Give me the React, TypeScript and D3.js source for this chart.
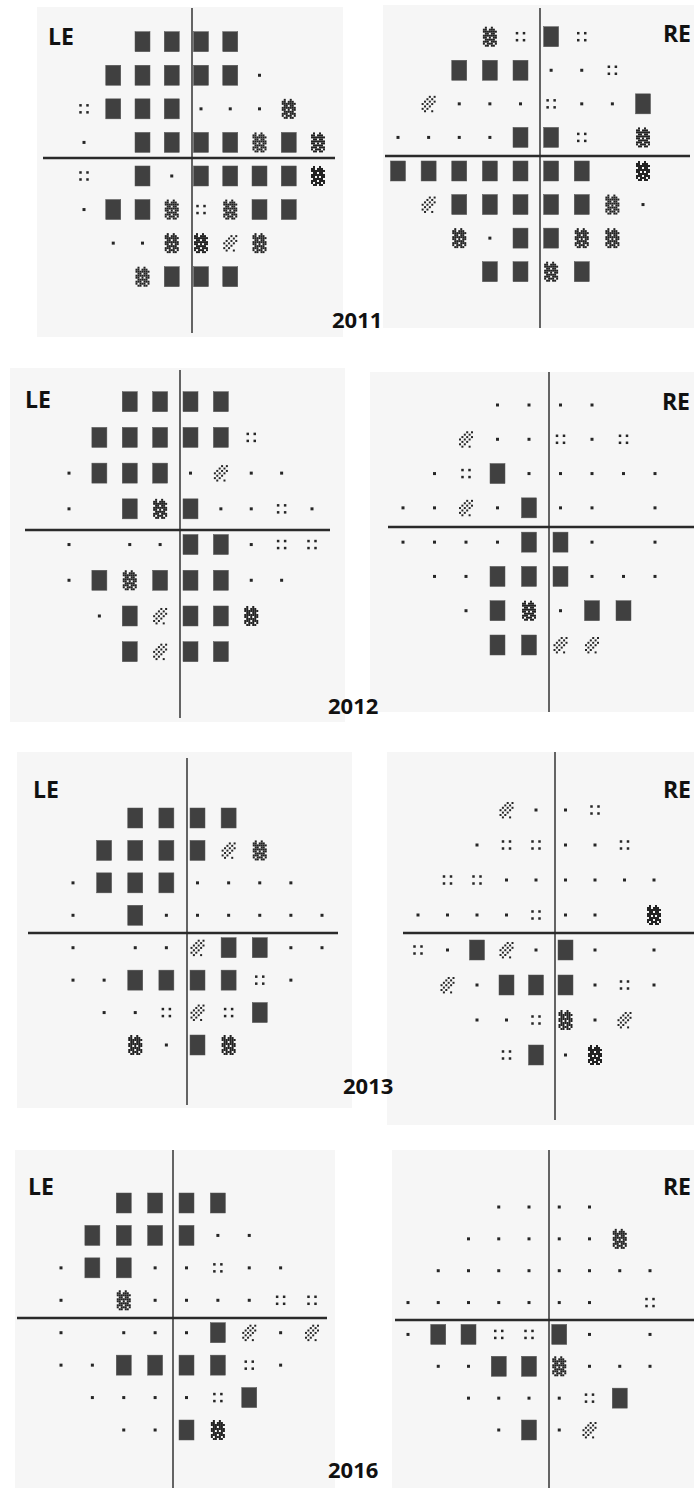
import React, { useEffect, useRef } from 'react';
import * as d3 from 'd3';

// grey-scale symbol per test point: 0 dot, 1 four dots, 2 light hatch, 3 dense hatch, 4 black, '.' none
const le2011 = ['..4444...', '.444440..', '14440003.', '0.4444343', '1.4044443', '04431344.', '.003323..', '..3444...'];
const re2011 = ['...3141..', '..444001.', '.20001004', '0000441.3', '4444444.3', '.24444430', '..304433.', '...4434..'];
const le2012 = ['..4444...', '.444441..', '04440200.', '0.4340010', '0.0044011', '04344400.', '.042443..', '..4244...'];
const re2012 = ['...0000..', '..200101.', '.01400000', '0020400.0', '0000440.0', '.00444000', '..043044.', '...4422..'];
const le2013 = ['..4444...', '.444423..', '04440000.', '0.4000000', '0.0024400', '00444410.', '.001214..', '..3043...'];
const re2013 = ['...2001..', '..011001.', '.11000000', '0000100.3', '1042040.0', '.20444010', '..001302.', '...1403..'];
const le2016 = ['..4444...', '.444400..', '04400100.', '0.3000011', '0.0004202', '00444410.', '.000014..', '..0043...'];
const re2016 = ['...0000..', '..000003.', '.00000000', '0000000.1', '0441140.0', '.00443000', '..000014.', '...0402..'];

const years = ['2011', '2012', '2013', '2016'];

const DENSE = [
  '.#..#..',
  '##.###.',
  '#######',
  '.##.##.',
  '#######',
  '##.#.##',
  '.#####.',
  '###.###',
  '#.###.#',
  '.##.##.',
];
const LIGHT = [
  '...#.#',
  '..#.#.',
  '.#.#.#',
  '#.#.#.',
  '.#.#..',
  '#.#...',
  '.#..#.',
];

const panels = [
  { eye: 'LE', data: le2011, box: [37, 7, 306, 330], cols: [84, 318], rows: [41.7, 276.7], vx: 192, hy: 158, vy: [8, 333], hx: [43, 335], lab: [48, 45] },
  { eye: 'RE', data: re2011, box: [383, 5, 311, 323], cols: [398, 643], rows: [36.7, 271.7], vx: 540, hy: 156, vy: [8, 328], hx: [385, 690], lab: [691, 42] },
  { eye: 'LE', data: le2012, box: [10, 368, 335, 354], cols: [69, 312], rows: [401.7, 651.7], vx: 180, hy: 530, vy: [370, 718], hx: [25, 330], lab: [25, 408] },
  { eye: 'RE', data: re2012, box: [370, 372, 324, 340], cols: [403, 655], rows: [405, 645], vx: 549, hy: 527, vy: [372, 712], hx: [388, 694], lab: [690, 410] },
  { eye: 'LE', data: le2013, box: [17, 752, 335, 356], cols: [73, 322], rows: [818, 1045], vx: 187, hy: 933, vy: [758, 1105], hx: [28, 338], lab: [33, 798] },
  { eye: 'RE', data: re2013, box: [387, 752, 307, 373], cols: [418, 654], rows: [810, 1055], vx: 555, hy: 933, vy: [752, 1120], hx: [403, 694], lab: [691, 798] },
  { eye: 'LE', data: le2016, box: [15, 1150, 320, 338], cols: [61, 312], rows: [1203, 1430], vx: 173, hy: 1318, vy: [1150, 1488], hx: [17, 327], lab: [28, 1195] },
  { eye: 'RE', data: re2016, box: [392, 1150, 302, 338], cols: [408, 650], rows: [1207, 1430], vx: 549, hy: 1320, vy: [1150, 1488], hx: [395, 694], lab: [691, 1195] },
];

const yearPos = [[332, 328], [328, 714], [343, 1094], [328, 1478]];

const bits = (rows: string[]) => {
  const out: { c: number; r: number }[] = [];
  rows.forEach((s, r) => s.split('').forEach((ch, c) => { if (ch === '#') out.push({ c, r }); }));
  return out;
};

const App: React.FC = () => {
  const svgRef = useRef<SVGSVGElement | null>(null);

  useEffect(() => {
    const svg = d3.select(svgRef.current);
    svg.selectAll('*').remove();
    const ink = '#262626';
    const dense = bits(DENSE);
    const light = bits(LIGHT);

    panels.forEach(p => {
      const g = svg.append('g');
      g.append('rect')
        .attr('x', p.box[0]).attr('y', p.box[1])
        .attr('width', p.box[2]).attr('height', p.box[3])
        .attr('fill', '#f6f6f6');

      const x = d3.scaleLinear().domain([0, 8]).range(p.cols);
      const y = d3.scaleLinear().domain([0, 7]).range(p.rows);

      // axes
      g.append('line')
        .attr('x1', p.vx).attr('x2', p.vx).attr('y1', p.vy[0]).attr('y2', p.vy[1])
        .attr('stroke', '#333').attr('stroke-width', 1.5);
      g.append('line')
        .attr('x1', p.hx[0]).attr('x2', p.hx[1]).attr('y1', p.hy).attr('y2', p.hy)
        .attr('stroke', '#2a2a2a').attr('stroke-width', 2.5);

      const pts: { c: number; r: number; v: number }[] = [];
      p.data.forEach((row, r) => row.split('').forEach((ch, c) => {
        if (ch !== '.') pts.push({ c, r, v: +ch });
      }));

      const cell = g.selectAll('g.pt')
        .data(pts)
        .join('g')
        .attr('class', 'pt')
        .attr('transform', d => `translate(${x(d.c)},${y(d.r)})`);

      cell.filter(d => d.v === 0).append('rect')
        .attr('x', -1.5).attr('y', -1.5).attr('width', 3).attr('height', 3).attr('fill', ink);

      cell.filter(d => d.v === 1).selectAll('rect')
        .data([[-3.5, -3.5], [3.5, -3.5], [-3.5, 3.5], [3.5, 3.5]])
        .join('rect')
        .attr('x', d => d[0] - 1.25).attr('y', d => d[1] - 1.25)
        .attr('width', 2.5).attr('height', 2.5).attr('fill', ink);

      cell.filter(d => d.v === 2).selectAll('rect')
        .data(light)
        .join('rect')
        .attr('x', d => -7 + d.c * 2.4).attr('y', d => -8 + d.r * 2.4)
        .attr('width', 2).attr('height', 2).attr('fill', ink);

      cell.filter(d => d.v === 3).selectAll('rect')
        .data(dense)
        .join('rect')
        .attr('x', d => -7 + d.c * 2).attr('y', d => -10 + d.r * 2)
        .attr('width', 2).attr('height', 2).attr('fill', '#222');

      cell.filter(d => d.v === 4).append('rect')
        .attr('x', -7.5).attr('y', -10).attr('width', 15).attr('height', 20)
        .attr('fill', '#404040').attr('stroke', '#555').attr('stroke-width', 0.5);

      g.append('text')
        .attr('x', p.lab[0]).attr('y', p.lab[1])
        .attr('text-anchor', p.eye === 'RE' ? 'end' : 'start')
        .attr('font-family', '"Open Sans", sans-serif')
        .attr('font-weight', 700)
        .attr('font-size', 23)
        .attr('fill', '#111')
        .text(p.eye);
    });

    svg.selectAll('text.year')
      .data(years)
      .join('text')
      .attr('class', 'year')
      .attr('x', (d, i) => yearPos[i][0])
      .attr('y', (d, i) => yearPos[i][1])
      .attr('font-family', '"Open Sans", sans-serif')
      .attr('font-weight', 700)
      .attr('font-size', 22)
      .attr('fill', '#111')
      .text(d => d);
  }, []);

  return (
    <svg
      ref={svgRef}
      width={694}
      height={1488}
      style={{ position: 'absolute', left: 0, top: 0, background: '#fff', display: 'block' }}
    />
  );
};

export default App;
